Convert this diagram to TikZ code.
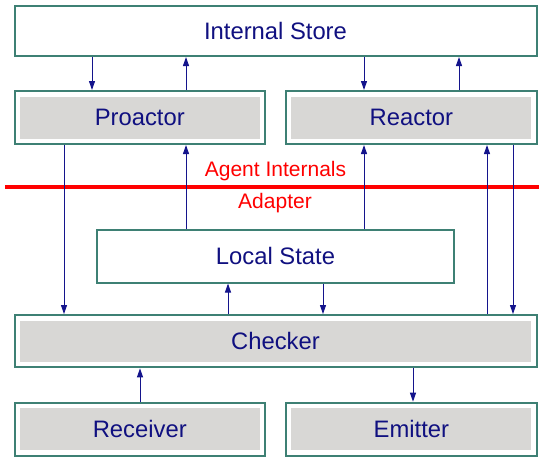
\documentclass[tikz,border=0pt]{standalone}
\usepackage{fontspec}
\setmainfont{Liberation Sans}
\usetikzlibrary{arrows.meta}
\definecolor{boxborder}{RGB}{62,128,116}
\definecolor{boxgray}{RGB}{216,215,213}
\definecolor{navytext}{RGB}{16,16,128}
\definecolor{arrowblue}{RGB}{20,20,140}
\begin{document}
\begin{tikzpicture}[x=1pt,y=-1pt,
  plainbox/.style={draw=boxborder,line width=2pt,fill=white,inner sep=0pt,
    text=navytext,font=\fontsize{23.8}{28}\selectfont},
  graybox/.style={plainbox,
    path picture={\fill[boxgray]
      ([shift={(5pt,-5.5pt)}]path picture bounding box.north west) rectangle
      ([shift={(-5.5pt,5.5pt)}]path picture bounding box.south east);}},
  conn/.style={draw=arrowblue,line width=1pt,-{Triangle[width=6pt,length=9pt]}},
  redlabel/.style={text=red,font=\fontsize{21}{25}\selectfont,inner sep=0pt,anchor=base}
]
\useasboundingbox (0,0) rectangle (539,458);
\fill[white] (0,0) rectangle (539,458);

\node[plainbox,minimum width=522pt,minimum height=50pt] (store) at (275.5,31) {Internal Store};
\node[graybox,minimum width=250.5pt,minimum height=53pt] (pro) at (139.75,117.5) {Proactor};
\node[graybox,minimum width=250.2pt,minimum height=53pt] (rea) at (411.4,117.5) {Reactor};
\node[plainbox,minimum width=357pt,minimum height=53pt] (local) at (275.5,256) {Local State};
\node[graybox,minimum width=522pt,minimum height=52.3pt] (chk) at (275.5,341.2) {Checker};
\node[graybox,minimum width=250.5pt,minimum height=53pt] (rec) at (139.75,429.2) {Receiver};
\node[graybox,minimum width=250.2pt,minimum height=53pt] (emi) at (411.4,429.2) {Emitter};

\coordinate (redL) at (5,187);
\coordinate (redR) at (539,187);
\draw[red,line width=3.5pt] (redL) -- (redR);
\node[redlabel] (ai) at (275.5,176.7) {Agent Internals};
\node[redlabel] (ad) at (275,208.3) {Adapter};

% Internal Store <-> Proactor / Reactor
\draw[conn] (store.south -| 92,0) -- (pro.north -| 92,0);
\draw[conn] (pro.north -| 186,0) -- (store.south -| 186,0);
\draw[conn] (store.south -| 364,0) -- (rea.north -| 364,0);
\draw[conn] (rea.north -| 459,0) -- (store.south -| 459,0);

% Proactor / Reactor / Local State / Checker
\draw[conn] (pro.south -| 64,0) -- (chk.north -| 64,0);
\draw[conn] (local.north -| 186,0) -- (pro.south -| 186,0);
\draw[conn] (local.north -| 364,0) -- (rea.south -| 364,0);
\draw[conn] (chk.north -| 228,0) -- (local.south -| 228,0);
\draw[conn] (local.south -| 323,0) -- (chk.north -| 323,0);
\draw[conn] (chk.north -| 487,0) -- (rea.south -| 487,0);
\draw[conn] (rea.south -| 513,0) -- (chk.north -| 513,0);

% Receiver / Emitter
\draw[conn] (rec.north -| 140,0) -- (chk.south -| 140,0);
\draw[conn] (chk.south -| 413,0) -- (emi.north -| 413,0);
\end{tikzpicture}
\end{document}
